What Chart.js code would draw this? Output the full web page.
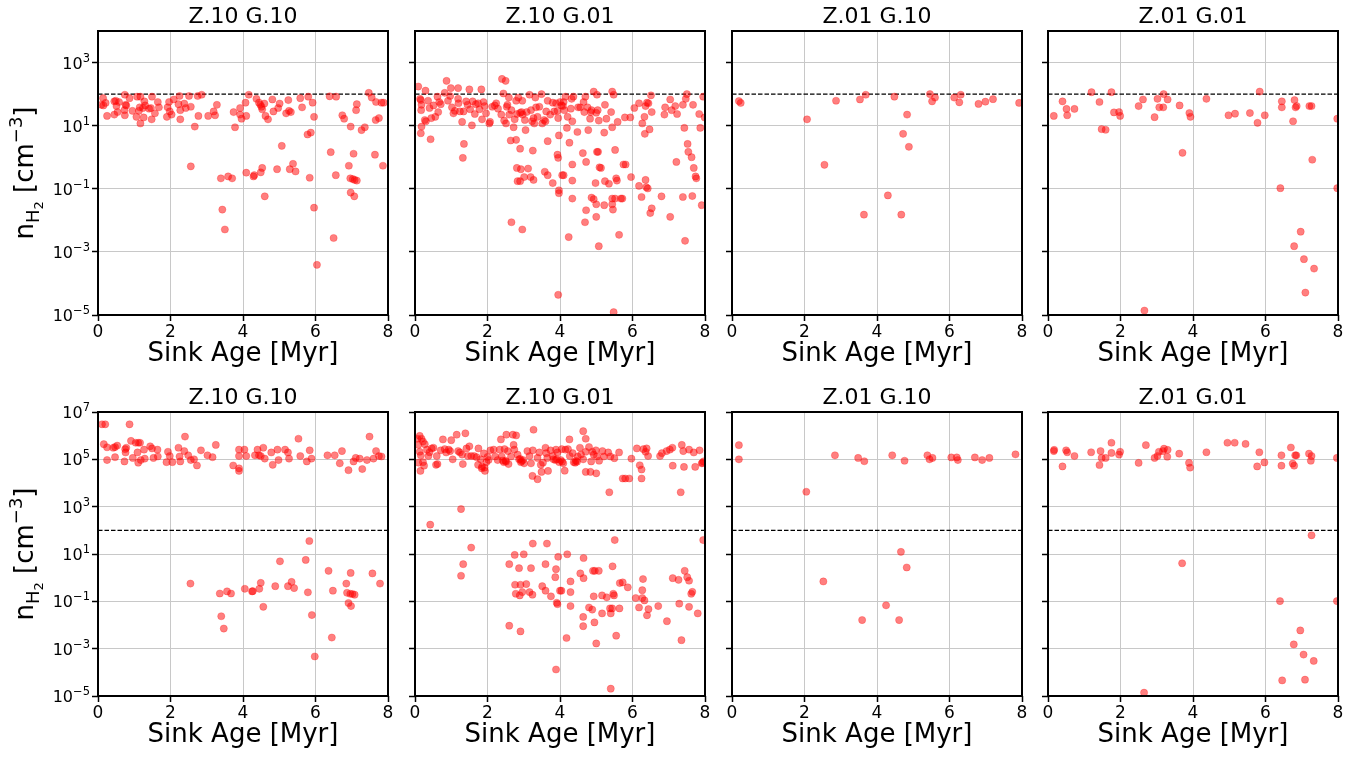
<!DOCTYPE html>
<html>
<head>
<meta charset="utf-8">
<script src="https://cdn.jsdelivr.net/npm/chart.js@4.4.1/dist/chart.umd.min.js"></script>
<style>
  body { margin: 0; background: #fff; width: 1362px; height: 761px; overflow: hidden; position: relative; }
  canvas { position: absolute; }
</style>
</head>
<body>
<script>
// panel titles, ticks and the threshold line
const panelTitles = ['Z.10 G.10', 'Z.10 G.01', 'Z.01 G.10', 'Z.01 G.01'];
const xTicks = [0, 2, 4, 6, 8];
const xTickLabels = ['0', '2', '4', '6', '8'];
const topYTicks = [1e-5, 1e-3, 1e-1, 1e1, 1e3];
const topYTickLabels = [['10', '−5'], ['10', '−3'], ['10', '−1'], ['10', '1'], ['10', '3']];
const bottomYTicks = [1e-5, 1e-3, 1e-1, 1e1, 1e3, 1e5, 1e7];
const bottomYTickLabels = [['10', '−5'], ['10', '−3'], ['10', '−1'], ['10', '1'], ['10', '3'], ['10', '5'], ['10', '7']];
const thresholdN = 100;
const xLabel = 'Sink Age [Myr]';
// y label pieces: text, font size, baseline shift (sub/superscripts)
const yLabelParts = [['n', 26, 0], ['H', 18, 6], ['2', 13, 10], [' [cm', 26, 0], ['−3', 18, -11], [']', 26, 0]];

// points: [sink age (Myr), log10 n_H2 (cm^-3)]
const topZ10G10 = [[0.09,1.66],[0.14,1.87],[0.21,1.72],[0.15,1.64],[0.25,1.31],[0.45,1.77],[0.45,1.35],[0.49,1.79],[0.51,1.62],[0.54,1.43],[0.58,1.75],[0.73,1.49],[0.74,1.98],[0.76,1.66],[0.78,1.64],[0.74,1.33],[0.87,1.87],[0.95,1.47],[1.06,1.28],[1.08,1.92],[1.13,1.47],[1.17,1.92],[1.15,1.58],[1.17,1.07],[1.24,1.56],[1.28,1.77],[1.26,1.26],[1.3,1.64],[1.41,1.54],[1.46,1.56],[1.49,1.92],[1.48,1.2],[1.57,1.39],[1.65,1.75],[1.68,1.58],[1.9,1.28],[1.92,1.58],[1.96,1.75],[1.98,1.45],[2.03,1.35],[2.09,1.83],[2.22,1.68],[2.25,1.94],[2.27,1.49],[2.27,1.2],[2.38,1.7],[2.42,1.56],[2.51,1.94],[2.56,1.6],[2.67,0.97],[2.56,-0.29],[2.77,1.31],[2.75,1.94],[2.86,1.98],[3.04,1.31],[3.19,1.45],[3.23,1.33],[3.28,1.66],[3.39,-0.67],[3.43,-1.66],[3.5,-2.29],[3.59,-0.61],[3.7,-0.67],[3.74,1.43],[3.78,0.95],[3.92,1.56],[3.92,1.35],[3.96,1.22],[4.09,1.31],[4.07,1.73],[4.16,1.98],[4.09,-0.49],[4.29,-0.61],[4.31,-0.57],[4.37,1.85],[4.44,1.73],[4.48,1.66],[4.51,1.6],[4.53,1.52],[4.59,1.7],[4.62,1.31],[4.69,1.2],[4.49,-0.48],[4.53,-0.34],[4.6,-1.24],[4.81,1.83],[4.84,1.45],[4.97,1.56],[5.01,1.7],[5.07,0.36],[4.94,-0.38],[5.19,1.39],[5.25,1.81],[5.27,1.47],[5.32,1.43],[5.29,-0.38],[5.38,-0.21],[5.45,-0.45],[5.58,1.87],[5.63,1.58],[5.78,0.72],[5.87,0.78],[5.8,1.92],[5.92,1.73],[5.96,1.28],[5.84,-0.65],[5.96,-1.6],[6.04,-3.41],[6.39,1.93],[6.57,1.92],[6.42,0.16],[6.5,-2.56],[6.56,-0.57],[6.74,1.33],[6.79,1.22],[6.92,-0.27],[6.96,-0.67],[6.97,0.97],[6.97,-1.12],[7.03,-0.69],[7.05,0.11],[7.08,-0.72],[7.12,1.49],[7.14,-0.74],[7.14,1.68],[7.07,-1.24],[7.27,0.86],[7.36,0.95],[7.47,2.04],[7.55,1.89],[7.64,0.08],[7.66,1.18],[7.67,1.75],[7.75,1.24],[7.82,1.73],[7.88,1.73],[7.86,-0.27]];

const topZ10G01 = [[0.09,2.24],[0.14,1.85],[0.16,1.81],[0.18,1.66],[0.17,1.49],[0.18,0.97],[0.16,0.76],[0.29,2.11],[0.27,1.18],[0.3,1.14],[0.36,1.79],[0.4,1.56],[0.43,0.57],[0.45,1.24],[0.51,1.64],[0.56,1.28],[0.62,1.92],[0.64,1.43],[0.67,1.75],[0.71,1.68],[0.82,2.04],[0.87,2.42],[0.91,1.79],[0.97,1.94],[0.99,2.19],[1.02,1.58],[1.06,1.39],[1.1,1.47],[1.19,2.19],[1.19,1.85],[1.2,1.71],[1.24,1.45],[1.3,1.12],[1.34,1.45],[1.35,0.42],[1.32,-0.02],[1.41,1.77],[1.45,1.66],[1.5,2.15],[1.52,1.52],[1.57,1.01],[1.59,1.77],[1.65,1.37],[1.68,1.68],[1.74,1.71],[1.78,1.52],[1.83,2.15],[1.85,1.2],[1.89,1.75],[1.92,1.62],[1.96,1.39],[2.05,1.07],[2.07,1.12],[2.13,1.6],[2.2,1.64],[2.24,1.71],[2.29,1.54],[2.38,1.35],[2.4,2.48],[2.5,2.42],[2.44,2.02],[2.46,1.16],[2.51,1.07],[2.53,1.6],[2.55,1.66],[2.59,1.89],[2.6,1.35],[2.66,1.49],[2.72,0.95],[2.75,1.2],[2.79,1.79],[2.81,1.37],[2.85,1.89],[2.9,1.41],[2.94,1.43],[2.96,1.79],[2.97,1.35],[3.03,1.18],[3.05,0.86],[3.08,1.43],[3.16,1.98],[3.2,1.49],[3.23,1.14],[3.27,1.24],[3.29,1.07],[3.32,1.89],[3.34,1.58],[3.38,1.28],[3.43,1.6],[3.49,2.0],[3.51,1.07],[3.56,1.18],[3.6,1.14],[3.62,1.45],[3.66,1.79],[3.73,1.35],[3.8,1.73],[3.84,1.45],[3.89,1.71],[3.93,1.47],[3.95,1.24],[3.97,0.69],[4.0,1.75],[4.04,1.64],[4.08,1.62],[4.1,1.75],[4.12,1.49],[4.15,1.92],[4.19,0.93],[4.21,1.28],[4.26,0.46],[4.3,1.54],[4.32,1.85],[4.34,1.14],[4.37,1.92],[4.48,0.8],[4.5,1.58],[4.56,1.58],[4.63,0.13],[4.65,1.75],[4.67,1.43],[4.7,1.92],[4.72,-0.15],[4.76,1.58],[4.78,0.86],[4.83,1.22],[4.85,1.43],[4.87,1.49],[4.93,2.08],[5.0,1.41],[5.02,1.98],[5.02,0.17],[5.05,0.17],[5.04,1.49],[5.07,1.16],[5.09,-0.32],[5.22,0.78],[5.24,1.66],[5.28,1.22],[5.41,1.43],[5.44,2.08],[5.44,0.95],[5.48,1.98],[5.52,0.23],[5.59,1.12],[5.79,1.26],[5.75,-0.23],[5.81,-0.23],[5.94,1.26],[6.05,1.56],[6.18,1.71],[6.27,1.07],[6.33,1.28],[6.34,0.74],[6.36,1.62],[6.4,1.73],[6.44,1.71],[6.47,0.88],[6.51,1.96],[6.53,1.43],[6.88,1.35],[6.9,1.58],[7.04,1.83],[7.08,1.49],[7.18,1.62],[7.23,1.37],[7.39,1.66],[7.43,0.93],[7.47,1.85],[7.5,2.0],[7.52,0.42],[7.54,0.17],[7.63,0.0],[7.67,1.66],[7.69,-0.34],[7.84,1.37],[7.87,0.93],[7.95,1.92],[7.99,1.26],
  [2.64,0.53],[2.79,0.55],[2.9,0.27],[3.25,0.21],[3.66,0.51],[3.93,0.08],[3.95,-0.02],[2.81,-0.34],[2.92,-0.38],[3.12,-0.36],[2.83,-0.76],[2.9,-0.76],[3.01,-0.63],[3.19,-0.63],[3.27,-0.72],[3.58,-0.46],[3.66,-0.57],[3.8,-0.82],[3.97,-1.05],[3.97,-1.14],[4.06,-0.57],[4.1,-0.57],[4.34,-0.23],[4.34,-0.74],[4.34,-1.31],[4.87,-1.28],[4.93,-1.33],[4.98,-0.82],[5.0,-1.49],[5.13,-0.34],[5.24,-0.76],[5.35,-0.84],[5.55,-0.67],[5.57,-0.74],[5.44,-1.31],[5.52,-1.31],[5.68,-1.31],[5.72,-1.31],[5.96,-0.63],[6.18,-0.91],[6.25,-1.26],[6.36,-0.72],[6.38,-0.95],[6.42,-0.99],[6.53,-1.62],[6.49,-1.77],[6.8,-1.24],[7.04,-1.89],[7.21,-0.15],[7.39,-1.26],[7.65,-1.23],[7.74,-0.61],[7.76,-0.67],[7.91,-1.52],[2.66,-2.06],[2.96,-2.29],[4.69,-2.06],[4.72,-1.68],[5.0,-1.89],[5.22,-1.52],[5.44,-1.49],[5.46,-1.66],[4.24,-2.53],[5.07,-2.82],[5.63,-2.46],[7.45,-2.65],[3.95,-4.36],[5.48,-4.91]];

const topZ01G10 = [[0.19,1.78],[0.24,1.72],[2.07,1.2],[2.87,1.79],[3.53,1.83],[3.69,1.98],[4.48,1.92],[4.83,1.35],[4.72,0.74],[4.88,0.33],[2.55,-0.24],[4.3,-1.21],[3.64,-1.82],[4.67,-1.82],[5.46,2.0],[5.52,1.77],[5.6,1.89],[6.13,1.89],[6.31,1.98],[6.27,1.74],[6.8,1.69],[6.99,1.76],[7.2,1.84],[7.92,1.72]];

const topZ01G01 = [[0.16,1.31],[0.4,1.77],[0.51,1.53],[0.53,1.33],[0.73,1.53],[1.2,2.06],[1.42,1.75],[1.48,0.89],[1.59,0.87],[1.75,2.06],[1.82,1.42],[1.96,1.43],[1.99,1.31],[2.5,1.62],[2.62,1.83],[2.94,1.27],[3.02,1.85],[3.07,1.58],[3.19,2.0],[3.18,1.58],[3.3,1.83],[3.63,1.64],[3.71,0.14],[3.9,1.4],[3.93,1.28],[4.37,1.85],[4.98,1.33],[5.16,1.38],[5.57,1.4],[5.78,1.09],[5.84,2.08],[5.98,1.33],[6.41,-0.98],[6.45,1.77],[6.45,1.58],[6.76,1.14],[6.8,1.81],[6.83,1.58],[6.86,1.62],[6.79,-2.82],[6.97,-2.36],[7.06,-3.23],[7.1,-4.29],[7.21,1.62],[7.27,1.62],[7.29,-0.08],[7.34,-3.53],[2.66,-4.86],[7.98,1.22],[7.98,-0.98]];

const bottomZ10G10 = [[0.11,6.48],[0.2,6.48],[0.87,6.48],[0.16,5.64],[0.25,5.51],[0.25,4.97],[0.42,5.49],[0.47,5.52],[0.53,5.58],[0.47,5.09],[0.73,4.91],[0.75,5.43],[0.76,5.29],[0.78,5.49],[0.91,5.78],[0.96,5.06],[1.04,5.7],[1.09,5.29],[1.11,5.7],[1.16,5.7],[1.11,4.86],[1.18,4.97],[1.27,5.41],[1.29,5.03],[1.44,5.55],[1.49,5.46],[1.53,5.06],[1.64,5.41],[1.65,5.12],[1.93,5.32],[1.98,5.14],[1.89,4.88],[2.05,4.88],[2.22,5.49],[2.25,5.12],[2.27,4.91],[2.38,5.35],[2.4,5.96],[2.49,5.17],[2.56,4.97],[2.65,5.0],[2.73,4.74],[2.84,5.38],[3.02,5.17],[3.16,5.09],[3.25,5.61],[3.73,4.74],[3.89,4.62],[3.89,4.51],[3.89,5.41],[3.89,5.14],[4.04,5.41],[4.09,5.14],[4.33,5.17],[4.4,5.41],[4.44,5.17],[4.49,5.14],[4.56,5.49],[4.6,5.03],[4.78,5.29],[4.82,4.77],[4.95,5.41],[4.98,4.97],[5.16,5.41],[5.24,5.29],[5.27,5.03],[5.53,5.87],[5.58,5.14],[5.76,4.91],[5.84,5.38],[5.89,5.03],[6.33,5.17],[6.53,5.17],[6.67,4.83],[6.73,5.35],[6.91,4.54],[7.05,4.91],[7.11,5.06],[7.22,5.03],[7.29,4.59],[7.42,4.97],[7.49,5.96],[7.6,5.03],[7.67,5.35],[7.75,5.14],[7.82,5.12],
  [5.83,1.55],[5.02,0.69],[5.73,0.75],[6.36,0.29],[6.97,0.2],[7.57,0.18],[2.55,-0.25],[7.78,-0.25],[6.85,-0.25],[4.49,-0.22],[4.89,-0.36],[5.24,-0.36],[5.34,-0.18],[5.41,-0.44],[4.05,-0.47],[4.25,-0.58],[4.27,-0.57],[4.45,-0.47],[3.36,-0.67],[3.56,-0.58],[3.67,-0.67],[5.79,-0.62],[6.48,-0.55],[6.87,-0.64],[6.96,-0.68],[7.02,-0.69],[7.08,-0.72],[4.56,-1.23],[6.91,-1.07],[6.98,-1.2],[3.4,-1.63],[5.9,-1.58],[3.47,-2.15],[6.45,-2.53],[5.98,-3.33]];

const bottomZ10G01 = [[0.07,5.87],[0.13,5.99],[0.18,5.87],[0.22,5.75],[0.09,5.61],[0.13,5.32],[0.27,5.64],[0.33,5.41],[0.37,5.14],[0.16,5.17],[0.22,4.88],[0.46,5.46],[0.51,5.49],[0.6,5.14],[0.58,4.77],[0.71,5.38],[0.77,5.84],[0.82,5.43],[0.86,5.29],[0.93,5.41],[1.0,5.81],[0.97,5.35],[1.04,5.0],[1.15,6.04],[1.19,5.35],[1.24,5.29],[1.32,4.8],[1.39,6.1],[1.42,5.46],[1.5,5.55],[1.46,5.14],[1.55,5.14],[1.63,5.14],[1.7,5.09],[1.74,4.77],[1.75,5.46],[1.81,5.0],[1.84,4.62],[1.92,4.65],[1.97,4.88],[2.03,4.97],[2.08,5.38],[2.17,5.41],[2.21,5.12],[2.28,4.97],[2.34,5.41],[2.37,5.84],[2.39,5.12],[2.45,4.88],[2.47,5.43],[2.5,4.94],[2.52,6.04],[2.56,5.35],[2.58,4.8],[2.65,5.12],[2.7,6.04],[2.72,5.61],[2.74,5.41],[2.79,6.01],[2.83,5.2],[2.87,5.0],[2.92,4.88],[2.98,4.97],[3.01,4.83],[3.1,5.35],[3.16,5.14],[3.2,4.83],[3.27,6.25],[3.25,5.38],[3.38,5.06],[3.43,5.29],[3.47,4.77],[3.53,4.86],[3.6,5.49],[3.62,5.26],[3.65,5.06],[3.74,5.38],[3.8,5.14],[3.89,5.41],[3.91,5.0],[3.93,5.29],[3.98,4.88],[4.02,4.97],[4.05,5.43],[4.09,4.83],[4.15,5.41],[4.22,5.43],[4.26,5.84],[4.27,5.14],[4.35,5.26],[4.38,4.88],[4.44,4.94],[4.49,5.12],[4.55,5.49],[4.58,5.2],[4.64,6.19],[4.64,5.0],[4.71,5.87],[4.71,5.32],[4.8,5.52],[4.86,4.91],[4.89,5.32],[4.93,5.2],[4.99,5.38],[5.02,5.12],[5.08,4.94],[5.17,5.35],[5.21,5.12],[5.33,5.29],[5.39,5.12],[5.63,5.29],[5.97,5.03],[6.12,5.46],[6.3,5.43],[6.36,5.32],[6.39,5.46],[6.43,5.14],[6.76,5.14],[6.81,5.26],[6.94,5.35],[7.03,5.41],[7.1,5.49],[7.36,5.61],[7.4,5.35],[7.56,5.41],[7.69,5.29],[7.85,5.38],[7.91,4.83],[7.96,4.91],[0.09,4.86],[2.42,4.95],[2.51,4.9],[2.9,5.02],[2.94,4.93],[3.82,5.0],[3.87,4.97],[4.06,4.9],[4.42,4.86],[4.47,4.9],[1.9,5.25],[2.0,5.1],[1.3,5.2],[0.4,5.3],[5.5,5.05],
  [3.24,4.3],[3.38,4.16],[5.36,3.61],[7.33,3.61],[5.73,4.19],[5.8,4.19],[5.91,4.19],[6.25,4.19],[6.2,4.75],[6.25,4.57],[4.13,4.52],[4.71,4.47],[4.84,4.47],[5.0,4.41],[3.67,4.51],[3.49,4.47],[1.93,4.51],[0.15,4.51],[0.25,4.73],[0.62,4.8],[1.85,4.69],[7.11,4.73],[7.42,4.68],[7.73,4.68],[7.93,4.85],
  [0.42,2.24],[1.27,2.9],[1.55,1.27],[1.33,0.57],[1.27,0.08],[3.25,1.44],[3.64,1.44],[5.51,1.59],[7.95,1.59],[4.2,0.99],[3.95,0.88],[4.65,0.83],[3.0,0.99],[2.75,0.96],[2.6,0.57],[2.87,0.4],[3.2,0.4],[3.6,0.57],[3.89,0.36],[3.87,0.02],[4.56,0.18],[4.65,-0.02],[4.91,0.29],[4.96,0.29],[5.07,0.29],[5.45,0.48],[2.76,-0.3],[2.91,-0.3],[3.07,-0.27],[2.78,-0.68],[2.89,-0.75],[2.96,-0.61],[3.16,-0.61],[3.24,-0.72],[3.51,-0.36],[3.6,-0.55],[3.75,-0.79],[4.0,-0.55],[4.04,-0.55],[4.29,-0.16],[4.29,-0.61],[3.91,-1.06],[3.93,-1.12],[4.29,-1.2],[4.8,-1.26],[4.89,-1.35],[4.93,-0.79],[5.16,-0.75],[5.29,-0.83],[5.16,-1.51],[5.38,-1.3],[5.4,-1.51],[5.44,-1.3],[5.47,-0.68],[5.49,-0.75],[5.64,-1.3],[5.65,-0.23],[5.73,-0.2],[5.87,-0.41],[6.09,-0.86],[6.18,-1.26],[6.27,-0.86],[6.27,-0.53],[6.29,-0.06],[6.33,-0.96],[6.4,-1.59],[6.44,-1.33],[6.71,-1.2],[6.95,-1.84],[7.11,-0.02],[7.27,-0.09],[7.29,-1.1],[7.44,0.29],[7.51,0.02],[7.56,-0.13],[7.56,-1.23],[7.62,-0.68],[7.65,-0.6],[7.8,-1.51],[2.6,-2.03],[2.91,-2.27],[4.64,-2.05],[4.64,-1.66],[4.95,-1.89],[4.18,-2.55],[5.0,-2.78],[5.55,-2.45],[7.35,-2.64],[3.89,-3.88],[5.4,-4.69]];

const bottomZ01G10 = [[0.19,5.6],[0.19,5.0],[2.84,5.17],[3.48,5.06],[3.65,4.92],[4.42,5.17],[4.76,4.94],[5.39,5.17],[5.45,5.0],[5.53,5.06],[6.05,5.08],[6.2,5.08],[6.23,4.97],[6.7,5.08],[6.9,4.97],[7.1,5.06],[7.82,5.21],[2.05,3.63],[4.66,1.09],[4.82,0.43],[2.52,-0.16],[4.25,-1.17],[3.59,-1.79],[4.61,-1.79]];

const bottomZ01G01 = [[0.16,5.35],[0.4,4.7],[0.53,5.3],[0.73,5.14],[1.19,5.3],[1.42,4.76],[1.48,5.06],[1.59,5.06],[1.75,5.27],[1.96,5.2],[1.99,5.32],[2.5,4.85],[2.94,5.06],[3.02,5.14],[3.06,5.32],[3.17,5.35],[3.29,5.11],[3.62,5.24],[3.89,4.85],[3.92,4.65],[4.37,5.3],[5.77,4.7],[5.83,5.3],[5.97,4.87],[6.44,5.17],[6.44,4.73],[6.75,4.82],[6.79,4.73],[6.82,5.17],[6.85,5.17],[7.2,5.24],[7.25,4.94],[7.27,5.14],[7.97,5.06],[0.17,5.4],[0.5,5.38],[1.75,5.7],[2.7,5.6],[3.2,5.45],[3.3,5.4],[4.95,5.7],[5.15,5.7],[5.45,5.65],[6.7,5.5],[1.45,5.35],
  [7.27,1.79],[3.7,0.61],[6.4,-0.99],[7.97,-0.99],[6.96,-2.23],[6.78,-2.82],[7.05,-3.25],[7.33,-3.52],[6.46,-4.34],[7.09,-4.31],[2.65,-4.86]];

const panelPoints = [
  [topZ10G10, topZ10G01, topZ01G10, topZ01G01],
  [bottomZ10G10, bottomZ10G01, bottomZ01G10, bottomZ01G01]
];

// layout (page pixels)
const panelLeft = [98, 415, 732, 1048];
const panelTop = [31, 412];
const panelW = 290, panelH = 284;
const titleH = 31, xAxisH = 60, padR = 14;
const FONT = 'DejaVu Sans';
Chart.defaults.font.family = FONT;

const framePlugin = {
  id: 'frame',
  afterDraw(chart) {
    const { ctx, chartArea: a } = chart;
    ctx.save();
    ctx.strokeStyle = '#000';
    ctx.lineWidth = 2;
    ctx.strokeRect(a.left, a.top, a.right - a.left, a.bottom - a.top);
    ctx.restore();
  }
};

// y axis title with sub/superscripts
const yLabelPlugin = {
  id: 'yLabel',
  afterDraw(chart) {
    const { ctx, chartArea: a } = chart;
    const yc = (a.top + a.bottom) / 2;
    ctx.save();
    ctx.fillStyle = '#000';
    ctx.textBaseline = 'alphabetic';
    let total = 0;
    const widths = yLabelParts.map(p => {
      ctx.font = p[1] + 'px "' + FONT + '"';
      const w = ctx.measureText(p[0]).width;
      total += w;
      return w;
    });
    ctx.translate(33, yc);
    ctx.rotate(-Math.PI / 2);
    let x = -total / 2;
    yLabelParts.forEach((p, i) => {
      ctx.font = p[1] + 'px "' + FONT + '"';
      ctx.fillText(p[0], x, p[2]);
      x += widths[i];
    });
    ctx.restore();
  }
};

// y tick labels as 10 with a raised exponent
const yTickPlugin = {
  id: 'yTickText',
  afterDraw(chart, args, opts) {
    const { ctx } = chart;
    const scale = chart.scales.y;
    const right = chart.chartArea.left - 8;
    ctx.save();
    ctx.fillStyle = '#000';
    ctx.textBaseline = 'alphabetic';
    opts.ticks.forEach((v, i) => {
      const y = scale.getPixelForValue(v);
      const [base, exp] = opts.labels[i];
      ctx.font = '11.5px "' + FONT + '"';
      const we = ctx.measureText(exp).width;
      ctx.font = '16px "' + FONT + '"';
      const wb = ctx.measureText(base).width;
      ctx.fillText(base, right - we - wb, y + 6);
      ctx.font = '11.5px "' + FONT + '"';
      ctx.fillText(exp, right - we, y - 1);
    });
    ctx.restore();
  }
};

function makePanel(row, col) {
  const padL = col === 0 ? 98 : 10;
  const canvas = document.createElement('canvas');
  canvas.width = padL + panelW + padR;
  canvas.height = titleH + panelH + xAxisH;
  canvas.style.left = (panelLeft[col] - padL) + 'px';
  canvas.style.top = (panelTop[row] - titleH) + 'px';
  document.body.appendChild(canvas);

  const yTicks = row === 0 ? topYTicks : bottomYTicks;
  const yLabels = row === 0 ? topYTickLabels : bottomYTickLabels;
  const pts = panelPoints[row][col];

  new Chart(canvas, {
    type: 'scatter',
    data: {
      datasets: [{
        data: pts.map(p => ({ x: p[0], y: Math.pow(10, p[1]) })),
        backgroundColor: 'rgba(255,0,0,0.5)',
        borderColor: 'rgba(255,0,0,0.5)',
        borderWidth: 0.5,
        pointRadius: 3.6,
        pointHoverRadius: 3.6,
        clip: 0
      }, {
        type: 'line',
        data: [{ x: 0, y: thresholdN }, { x: 8, y: thresholdN }],
        borderColor: '#000',
        borderWidth: 1.2,
        borderDash: [4.5, 2],
        pointRadius: 0,
        showLine: true,
        fill: false
      }]
    },
    options: {
      responsive: false,
      animation: false,
      events: [],
      layout: { padding: { left: 0, right: padR, top: 0, bottom: 0 } },
      plugins: {
        legend: { display: false },
        tooltip: { enabled: false },
        title: {
          display: true,
          text: panelTitles[col],
          fullSize: false,
          color: '#000',
          font: { family: FONT, size: 22, weight: 'normal', lineHeight: 1.2 },
          padding: { top: 3.8, bottom: 0.8 }
        },
        yTickText: { ticks: yTicks, labels: yLabels }
      },
      scales: {
        x: {
          type: 'linear', min: 0, max: 8,
          afterBuildTicks: s => { s.ticks = xTicks.map(v => ({ value: v })); },
          afterFit: s => { s.height = xAxisH; },
          grid: { color: '#c8c8c8', lineWidth: 1, tickColor: '#000', tickLength: 6, tickWidth: 1.5 },
          border: { display: false },
          ticks: {
            color: '#000', padding: 1, maxRotation: 0,
            font: { family: FONT, size: 17 },
            callback: (v, i) => xTickLabels[i]
          },
          title: {
            display: true, text: xLabel, color: '#000',
            font: { family: FONT, size: 26 },
            padding: { top: 0, bottom: 5 }
          }
        },
        y: {
          type: 'logarithmic',
          min: 1e-5, max: row === 0 ? 1e4 : 1e7,
          afterBuildTicks: s => { s.ticks = yTicks.map(v => ({ value: v })); },
          afterFit: s => { s.width = padL; },
          grid: { color: '#c8c8c8', lineWidth: 1, tickColor: '#000', tickLength: 6, tickWidth: 1.5 },
          border: { display: false },
          ticks: { display: true, callback: () => '' }
        }
      }
    },
    plugins: col === 0 ? [framePlugin, yLabelPlugin, yTickPlugin] : [framePlugin]
  });
}

for (let r = 0; r < 2; r++) {
  for (let c = 0; c < 4; c++) makePanel(r, c);
}
</script>
</body>
</html>
